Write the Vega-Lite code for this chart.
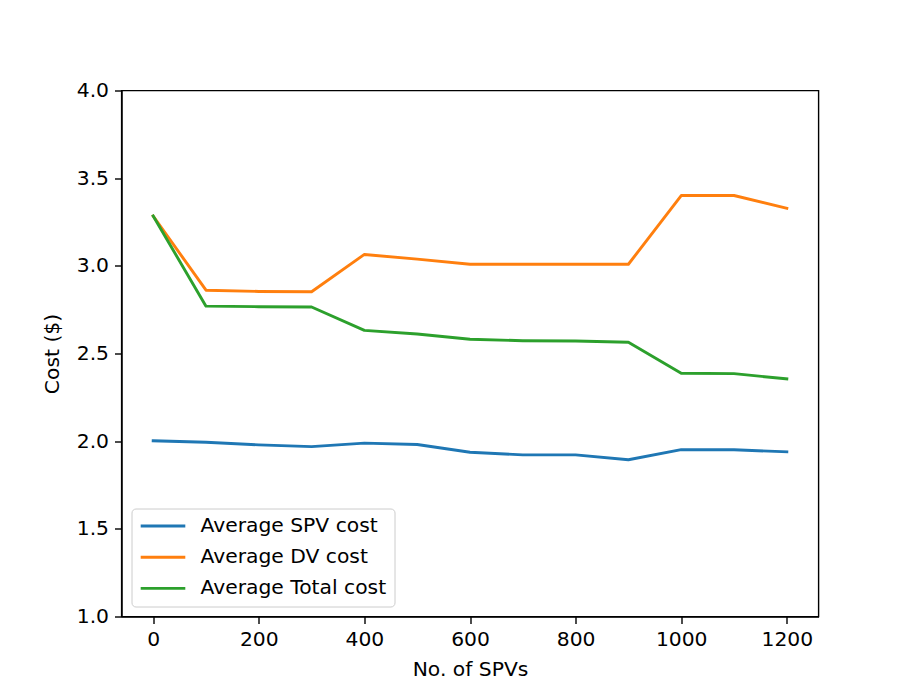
{
  "$schema": "https://vega.github.io/schema/vega-lite/v6.json",
  "autosize": "none",
  "width": 697,
  "height": 526,
  "padding": {"left": 121.5, "top": 90.5, "right": 80.5, "bottom": 73.5},
  "background": "white",
  "config": {
    "font": "DejaVu Sans",
    "view": {"stroke": "black", "strokeWidth": 1.4},
    "axis": {
      "grid": false,
      "domainColor": "black",
      "domainWidth": 1.4,
      "tickColor": "black",
      "tickWidth": 1.4,
      "tickSize": 7,
      "labelPadding": 6,
      "labelFontSize": 20.3,
      "labelColor": "black",
      "labelFont": "DejaVu Sans",
      "titleFont": "DejaVu Sans",
      "titleFontSize": 20.3,
      "titleFontWeight": "normal",
      "titleColor": "black"
    }
  },
  "data": {
    "values": [
      {"spvs": 0, "series": "Average SPV cost", "cost": 2.002},
      {"spvs": 100, "series": "Average SPV cost", "cost": 1.994},
      {"spvs": 200, "series": "Average SPV cost", "cost": 1.979},
      {"spvs": 300, "series": "Average SPV cost", "cost": 1.969},
      {"spvs": 400, "series": "Average SPV cost", "cost": 1.989},
      {"spvs": 500, "series": "Average SPV cost", "cost": 1.981},
      {"spvs": 600, "series": "Average SPV cost", "cost": 1.937},
      {"spvs": 700, "series": "Average SPV cost", "cost": 1.922},
      {"spvs": 800, "series": "Average SPV cost", "cost": 1.922},
      {"spvs": 900, "series": "Average SPV cost", "cost": 1.894},
      {"spvs": 1000, "series": "Average SPV cost", "cost": 1.952},
      {"spvs": 1100, "series": "Average SPV cost", "cost": 1.951},
      {"spvs": 1200, "series": "Average SPV cost", "cost": 1.939},
      {"spvs": 0, "series": "Average DV cost", "cost": 3.284},
      {"spvs": 100, "series": "Average DV cost", "cost": 2.861},
      {"spvs": 200, "series": "Average DV cost", "cost": 2.854},
      {"spvs": 300, "series": "Average DV cost", "cost": 2.852},
      {"spvs": 400, "series": "Average DV cost", "cost": 3.065},
      {"spvs": 500, "series": "Average DV cost", "cost": 3.038},
      {"spvs": 600, "series": "Average DV cost", "cost": 3.009},
      {"spvs": 700, "series": "Average DV cost", "cost": 3.009},
      {"spvs": 800, "series": "Average DV cost", "cost": 3.009},
      {"spvs": 900, "series": "Average DV cost", "cost": 3.009},
      {"spvs": 1000, "series": "Average DV cost", "cost": 3.401},
      {"spvs": 1100, "series": "Average DV cost", "cost": 3.401},
      {"spvs": 1200, "series": "Average DV cost", "cost": 3.328},
      {"spvs": 0, "series": "Average Total cost", "cost": 3.284},
      {"spvs": 100, "series": "Average Total cost", "cost": 2.770},
      {"spvs": 200, "series": "Average Total cost", "cost": 2.767},
      {"spvs": 300, "series": "Average Total cost", "cost": 2.765},
      {"spvs": 400, "series": "Average Total cost", "cost": 2.632},
      {"spvs": 500, "series": "Average Total cost", "cost": 2.611},
      {"spvs": 600, "series": "Average Total cost", "cost": 2.581},
      {"spvs": 700, "series": "Average Total cost", "cost": 2.573},
      {"spvs": 800, "series": "Average Total cost", "cost": 2.571},
      {"spvs": 900, "series": "Average Total cost", "cost": 2.564},
      {"spvs": 1000, "series": "Average Total cost", "cost": 2.387},
      {"spvs": 1100, "series": "Average Total cost", "cost": 2.385},
      {"spvs": 1200, "series": "Average Total cost", "cost": 2.355}
    ]
  },
  "mark": {"type": "line", "strokeWidth": 2.9, "strokeJoin": "round", "strokeCap": "square"},
  "encoding": {
    "x": {
      "field": "spvs",
      "type": "quantitative",
      "scale": {"domain": [-60, 1260], "nice": false, "zero": false},
      "axis": {"values": [0, 200, 400, 600, 800, 1000, 1200], "title": "No. of SPVs", "titlePadding": 10, "format": "d"}
    },
    "y": {
      "field": "cost",
      "type": "quantitative",
      "scale": {"domain": [1, 4], "nice": false, "zero": false},
      "axis": {"values": [1, 1.5, 2, 2.5, 3, 3.5, 4], "format": ".1f", "title": "Cost ($)", "titlePadding": 14}
    },
    "color": {
      "field": "series",
      "type": "nominal",
      "scale": {
        "domain": ["Average SPV cost", "Average DV cost", "Average Total cost"],
        "range": ["#1f77b4", "#ff7f0e", "#2ca02c"]
      },
      "legend": {
        "title": null,
        "orient": "bottom-left",
        "offset": 10,
        "symbolType": "stroke",
        "symbolSize": 1990,
        "symbolStrokeWidth": 2.9,
        "clipHeight": 20,
        "labelFontSize": 20.3,
        "labelFont": "DejaVu Sans",
        "labelColor": "black",
        "labelLimit": 0,
        "labelOffset": 13.5,
        "rowPadding": 10.2,
        "padding": 7.5,
        "fillColor": "white",
        "strokeColor": "#cccccc",
        "cornerRadius": 4
      }
    }
  }
}
